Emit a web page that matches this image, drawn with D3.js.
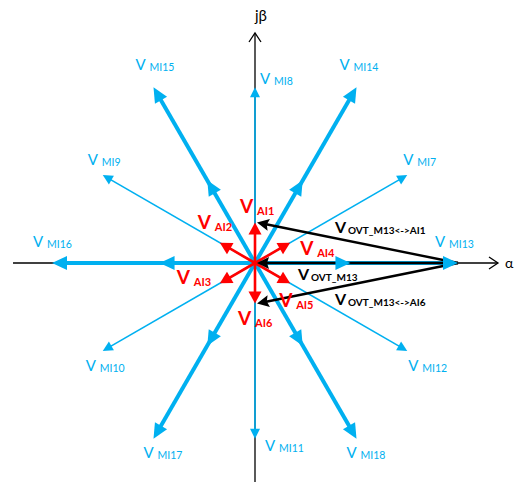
<!DOCTYPE html>
<html>
<head>
<meta charset="utf-8">
<script src="https://cdn.jsdelivr.net/npm/d3@7"></script>
<style>
  html, body { margin: 0; padding: 0; background: #fff; }
  svg { display: block; }
</style>
</head>
<body>
<svg id="chart" width="515" height="482"></svg>
<script>
// Space-vector diagram (alpha-beta plane), magnitudes in per-unit of the large vector.
const largeNames = ["MI13", "MI14", "MI15", "MI16", "MI17", "MI18"];
const largeAngles = [0, 60, 120, 180, 240, 300];
const largeMag = [1, 1, 1, 1, 1, 1];
const smallMag = [0.47, 0.47, 0.47, 0.47, 0.47, 0.47];

const mediumNames = ["MI7", "MI8", "MI9", "MI10", "MI11", "MI12"];
const mediumAngles = [30, 90, 150, 210, 270, 330];
const mediumMag = [0.866, 0.866, 0.866, 0.866, 0.866, 0.866];

const aiNames = ["AI1", "AI2", "AI3", "AI4", "AI5", "AI6"];
const aiAngles = [90, 150, 210, 30, 330, 270];
const aiMag = [0.2, 0.2, 0.2, 0.2, 0.2, 0.2];

// Overmodulation error vectors: start at V_MI13 tip, end at a target vector tip
const ovtNames = ["OVT_M13<->AI1", "OVT_M13", "OVT_M13<->AI6"];
const ovtTargets = ["AI1", "origin", "AI6"];

const axisLabels = ["α", "jβ"];

const BLUE = "#00b0f0", RED = "#ff0000", BLACK = "#000000";
const FONT = "Lato, 'Open Sans', sans-serif";

const svg = d3.select("#chart");
const x = d3.scaleLinear().domain([-1, 1]).range([52, 458]);
const y = d3.scaleLinear().domain([-1, 1]).range([466, 60]);

const rad = d => d * Math.PI / 180;
const tip = (ang, mag) => [mag * Math.cos(rad(ang)), mag * Math.sin(rad(ang))];
const px = p => [x(p[0]), y(p[1])];

// filled arrowhead at `to`, pointing along the direction from `from`
function head(g, from, to, len, half, color, notch) {
  const dx = to[0] - from[0], dy = to[1] - from[1];
  const L = Math.hypot(dx, dy);
  const ux = dx / L, uy = dy / L, nx = -uy, ny = ux;
  const bx = to[0] - ux * len, by = to[1] - uy * len;
  const n = notch || 0;
  const pts = [
    to,
    [bx + nx * half, by + ny * half],
    [to[0] - ux * (len - n), to[1] - uy * (len - n)],
    [bx - nx * half, by - ny * half]
  ];
  g.append("path").attr("d", d3.line()(pts) + "Z").attr("fill", color);
}

function shaft(g, from, to, back, color, w) {
  const dx = to[0] - from[0], dy = to[1] - from[1];
  const L = Math.hypot(dx, dy);
  const end = [to[0] - dx / L * back, to[1] - dy / L * back];
  g.append("line").attr("x1", from[0]).attr("y1", from[1])
    .attr("x2", end[0]).attr("y2", end[1])
    .attr("stroke", color).attr("stroke-width", w);
}

const O = px([0, 0]);

// axes
const gAxis = svg.append("g");
const axEnds = { left: px([-1.192, 0]), right: px([1.197, 0]), top: px([0, 1.133]), bottom: px([0, -1.1]) };
gAxis.append("line").attr("x1", axEnds.left[0]).attr("y1", axEnds.left[1])
  .attr("x2", axEnds.right[0]).attr("y2", axEnds.right[1])
  .attr("stroke", BLACK).attr("stroke-width", 1.3);
gAxis.append("line").attr("x1", axEnds.bottom[0]).attr("y1", axEnds.bottom[1])
  .attr("x2", axEnds.top[0]).attr("y2", axEnds.top[1])
  .attr("stroke", BLACK).attr("stroke-width", 1.3);
gAxis.append("path")
  .attr("d", d3.line()([[axEnds.right[0] - 9, axEnds.right[1] - 6], axEnds.right, [axEnds.right[0] - 9, axEnds.right[1] + 6]]))
  .attr("fill", "none").attr("stroke", BLACK).attr("stroke-width", 1.3);
gAxis.append("path")
  .attr("d", d3.line()([[axEnds.top[0] - 6, axEnds.top[1] + 9], axEnds.top, [axEnds.top[0] + 6, axEnds.top[1] + 9]]))
  .attr("fill", "none").attr("stroke", BLACK).attr("stroke-width", 1.3);
gAxis.append("text").attr("x", axEnds.right[0] + 7).attr("y", axEnds.right[1] + 5)
  .attr("font-family", FONT).attr("font-size", 14).attr("fill", BLACK).text(axisLabels[0]);
gAxis.append("text").attr("x", axEnds.top[0]).attr("y", axEnds.top[1] - 12)
  .attr("font-family", FONT).attr("font-size", 15).attr("fill", BLACK).text(axisLabels[1]);

// blue vector shafts
const gBlue = svg.append("g");
largeAngles.forEach((a, i) => shaft(gBlue, O, px(tip(a, largeMag[i])), 8, BLUE, 4));
mediumAngles.forEach((a, i) => shaft(gBlue, O, px(tip(a, mediumMag[i])), 6, BLUE, 1.6));

// red vectors
const gRed = svg.append("g");
const aiTips = {};
aiAngles.forEach((a, i) => {
  const t = px(tip(a, aiMag[i]));
  aiTips[aiNames[i]] = t;
  shaft(gRed, O, t, 8, RED, 2.6);
  head(gRed, O, t, 12, 6.5, RED);
});

// black error vectors
const gBlack = svg.append("g");
const m13 = px(tip(largeAngles[0], largeMag[0]));
ovtTargets.forEach(tg => {
  const t = tg === "origin" ? O : aiTips[tg];
  const end = [t[0] + 2, t[1]];
  shaft(gBlack, m13, end, 8, BLACK, 2.4);
  head(gBlack, m13, end, 12, 6, BLACK, 2);
});

// blue arrowheads (tip and mid-length small-vector heads)
const gHeads = svg.append("g");
largeAngles.forEach((a, i) => {
  head(gHeads, O, px(tip(a, largeMag[i])), 15, 7, BLUE);
  head(gHeads, O, px(tip(a, smallMag[i])), 15, 7, BLUE);
});
mediumAngles.forEach((a, i) => head(gHeads, O, px(tip(a, mediumMag[i])), 10, 5, BLUE));

// labels: a large "V" followed by a smaller subscript name
function label(g, pos, sub, color, vSize, sSize, weight, gap, drop) {
  g.append("text").attr("x", pos[0]).attr("y", pos[1])
    .attr("font-family", FONT).attr("font-size", vSize).attr("font-weight", weight)
    .attr("fill", color).text("V");
  g.append("text").attr("x", pos[0] + gap).attr("y", pos[1] + drop)
    .attr("font-family", FONT).attr("font-size", sSize).attr("font-weight", weight)
    .attr("fill", color).text(sub);
}

const gLab = svg.append("g");
const largeOffsets = [[-23, -16], [-17, -17], [-18, -17], [-19, -16], [-10, 19], [-10, 19]];
largeAngles.forEach((a, i) => {
  const t = px(tip(a, largeMag[i]));
  label(gLab, [t[0] + largeOffsets[i][0], t[1] + largeOffsets[i][1]], largeNames[i], BLUE, 15, 10.5, 400, 14, 1);
});
const mediumOffsets = [[-4, -10], [5, -3], [-15, -10], [-17, 20], [10, 12], [1, 20]];
mediumAngles.forEach((a, i) => {
  const t = px(tip(a, mediumMag[i]));
  label(gLab, [t[0] + mediumOffsets[i][0], t[1] + mediumOffsets[i][1]], mediumNames[i], BLUE, 15, 10.5, 400, 14, 1);
});
const aiOffsets = [[-15, -9], [-22, -14], [-43, 1], [10, 12], [-11, 24], [-17, 21]];
aiNames.forEach((n, i) => {
  const t = aiTips[n];
  label(gLab, [t[0] + aiOffsets[i][0], t[1] + aiOffsets[i][1]], n, RED, 19, 11, 700, 17, 2);
});
const ovtOffsets = [[-123, -30], [-160, 17], [-123, 42]];
ovtNames.forEach((n, i) => {
  label(gLab, [m13[0] + ovtOffsets[i][0], m13[1] + ovtOffsets[i][1]], n, BLACK, 16, 10, 700, 13, 1);
});
</script>
</body>
</html>
